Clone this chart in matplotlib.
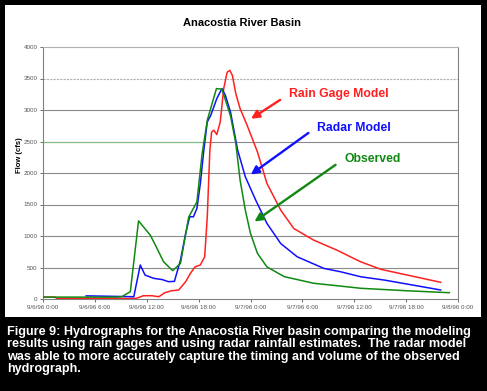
import matplotlib
matplotlib.use('Agg')
import matplotlib.pyplot as plt
from matplotlib.patches import Rectangle

plt.rcParams['font.family'] = ['Liberation Sans', 'DejaVu Sans']

# hours since 9/6/96 0:00
obs_h = [0, 8.5, 9.1, 10.1, 11.05, 12.4, 13.0, 13.95, 15.0, 15.9, 16.85, 17.8, 18.4, 19.0,
         20.06, 20.7, 21.7, 22.3, 22.8, 23.4, 24.0, 24.8, 25.9, 27.9, 31.3, 34.4, 36.75, 42.2, 47.0]
obs_q = [30, 30, 36, 115, 1240, 1015, 855, 590, 450, 565, 1300, 1540, 2300, 2837,
         3340, 3330, 2900, 2470, 1885, 1410, 1040, 725, 510, 355, 250, 205, 170, 130, 100]

radar_h = [5.0, 10.5, 11.25, 11.8, 12.8, 13.8, 14.5, 15.2, 15.9, 16.5, 16.96, 17.4, 17.8, 18.2,
           18.6, 19.0, 19.4, 20.1, 20.7, 21.1, 21.7, 22.5, 23.4, 24.6, 25.9, 27.5, 29.4, 32.5,
           34.4, 36.75, 39.5, 46.0]
radar_q = [50, 36, 540, 380, 328, 308, 275, 280, 618, 1040, 1305, 1305, 1437, 1834,
           2360, 2810, 2915, 3180, 3340, 3230, 2960, 2370, 1940, 1570, 1200, 880, 670, 485,
           433, 353, 300, 143]

gage_h = [0, 1.4, 1.6, 10.5, 10.9, 11.6, 12.6, 13.4, 14.1, 14.9, 15.7, 16.5, 17.05, 17.6, 18.2,
          18.7, 19.0, 19.3, 19.5, 19.75, 20.1, 20.5, 20.9, 21.3, 21.6, 21.9, 22.3, 22.8,
          23.6, 24.8, 25.9, 27.5, 29.0, 31.3, 34.0, 36.75, 39.1, 46.0]
gage_q = [30, 30, 8, 8, 15, 52, 52, 36, 100, 132, 143, 275, 407, 512, 540,
          670, 1305, 2360, 2650, 2680, 2610, 2810, 3340, 3600, 3630, 3550, 3260, 3020,
          2760, 2335, 1835, 1410, 1120, 935, 775, 590, 470, 265]

tick_hours = [0, 6, 12, 18, 24, 30, 36, 42, 48]
tick_labels = ['9/6/96 0:00', '9/6/96 6:00', '9/6/96 12:00', '9/6/96 18:00', '9/7/96 0:00',
               '9/7/96 6:00', '9/7/96 12:00', '9/7/96 18:00', '9/8/96 0:00']
y_ticks = [0, 500, 1000, 1500, 2000, 2500, 3000, 3500, 4000]

caption = ("Figure 9: Hydrographs for the Anacostia River basin comparing the modeling\n"
           "results using rain gages and using radar rainfall estimates.  The radar model\n"
           "was able to more accurately capture the timing and volume of the observed\n"
           "hydrograph.")

fig = plt.figure(figsize=(4.87, 3.91), dpi=100, facecolor='black')
fig.patches.append(Rectangle((5 / 487, 74 / 391), 476 / 487, 312 / 391,
                             transform=fig.transFigure, facecolor='white', edgecolor='none', zorder=-10))

ax = fig.add_axes([43 / 487, 92 / 391, 415 / 487, 252 / 391])
ax.set_facecolor('white')

for q in y_ticks[1:-1]:
    if q == 3500:
        ax.axhline(q, color='#b0b0b0', lw=0.8, ls=(0, (2, 1)), zorder=1)
    else:
        ax.axhline(q, color='#8a8a8a', lw=0.8, zorder=1)
ax.axhline(2500, xmin=0, xmax=0.38, color='#7fbf7f', lw=0.8, zorder=1)

ax.plot(gage_h, gage_q, color='#ff2020', lw=1.1, zorder=3)
ax.plot(radar_h, radar_q, color='#1010ff', lw=1.1, zorder=3)
ax.plot(obs_h, obs_q, color='#118811', lw=1.1, zorder=3)

ax.set_xlim(0, 48)
ax.set_ylim(0, 4000)
ax.set_xticks(tick_hours)
ax.set_xticklabels(tick_labels)
ax.set_yticks(y_ticks)
ax.tick_params(labelsize=4.5, colors='#555555', length=2, width=0.6, pad=2)
for s in ['left', 'bottom', 'right']:
    ax.spines[s].set_color('#808080')
    ax.spines[s].set_linewidth(0.8)
ax.spines['top'].set_color('#b0b0b0')
ax.spines['top'].set_linestyle((0, (2, 1)))
ax.spines['top'].set_linewidth(0.8)
ax.set_ylabel('Flow (cfs)', fontsize=5.5, fontweight='bold')
ax.yaxis.set_label_coords(-0.048, 0.57)

fig.text(242 / 487, 1 - 23 / 391, 'Anacostia River Basin', ha='center', va='center',
         fontsize=8, fontweight='bold')

ann = [('Rain Gage Model', '#ff2020', (28.4, 3250), (27.7, 3185), (23.8, 2837)),
       ('Radar Model', '#1010ff', (31.65, 2710), (30.96, 2662), (23.77, 1950)),
       ('Observed', '#118811', (34.9, 2219), (34.1, 2155), (24.2, 1204))]
for label, c, tpos, tail, head in ann:
    ax.text(tpos[0], tpos[1], label, color=c, fontsize=8.8, fontweight='bold', va='center', ha='left')
    ax.annotate('', xy=head, xytext=tail,
                arrowprops=dict(arrowstyle='-|>', color=c, lw=1.7, mutation_scale=12))

fig.text(7 / 487, 1 - 326 / 391, caption, color='white', fontsize=9.1, fontweight='bold',
         va='top', ha='left', linespacing=1.05)

fig.savefig('out.png', dpi=100, facecolor='black')
